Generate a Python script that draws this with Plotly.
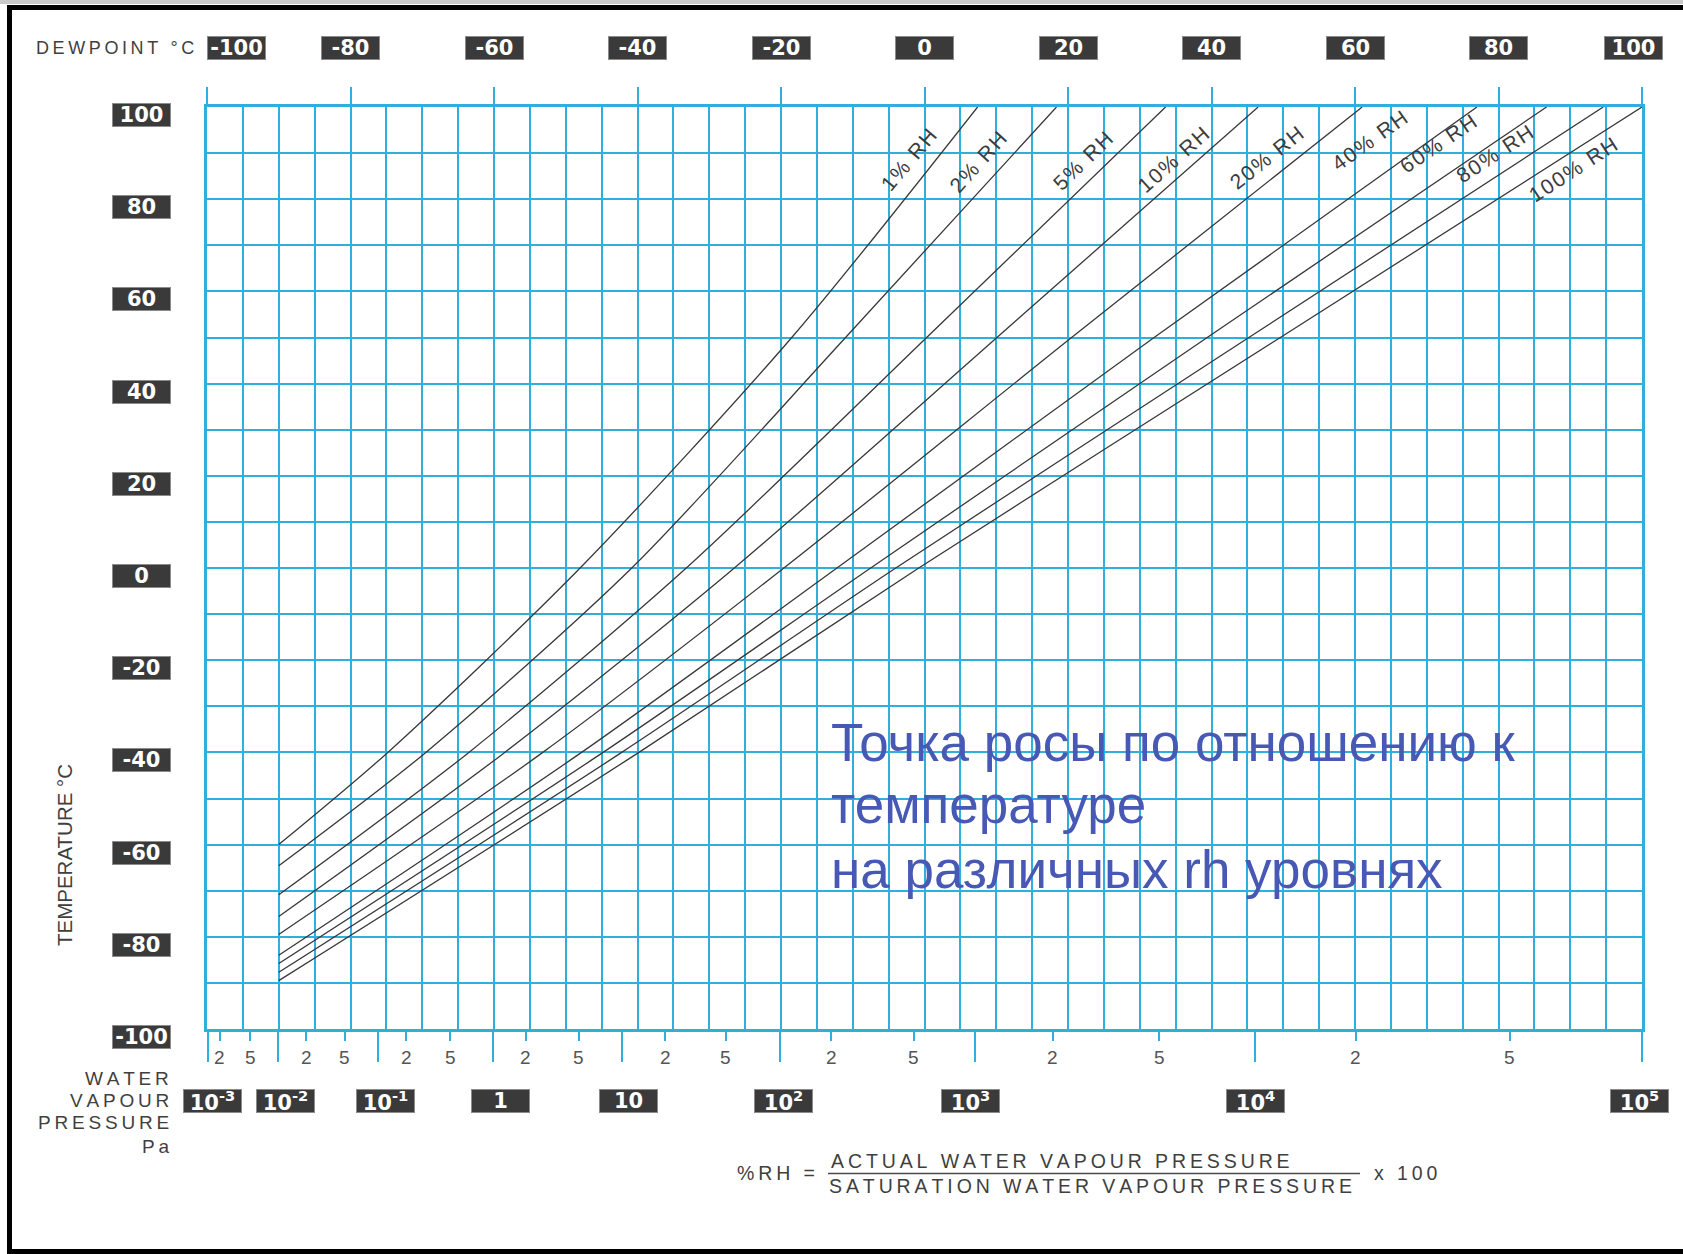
import plotly.graph_objects as go

# ---------------- data ----------------
rh_labels = ["1% RH", "2% RH", "5% RH", "10% RH", "20% RH", "40% RH", "60% RH", "80% RH", "100% RH"]
start_dewpoint = -90.0
start_temps = [-60.0, -64.6, -70.9, -75.6, -79.5, -84.0, -85.8, -87.7, -89.5]
read_temps = [-40, 0, 50, 100]
dew_rh1 = [-74.8, -48.0, -18.5, 7.4]
dew_rh2 = [-69.5, -40.8, -11.0, 18.4]
dew_rh5 = [-63.5, -33.2, 0.3, 33.6]
dew_rh10 = [-58.5, -26.5, 10.1, 46.5]
dew_rh20 = [-53.2, -19.6, 20.5, 61.0]
dew_rh40 = [-47.8, -12.2, 32.0, 77.0]
dew_rh60 = [-44.8, -7.5, 39.4, 86.7]
dew_rh80 = [-42.2, -4.0, 45.2, 94.6]
dew_rh100 = [-39.8, -0.8, 49.6, 100.0]
curve_dews = [dew_rh1, dew_rh2, dew_rh5, dew_rh10, dew_rh20, dew_rh40, dew_rh60, dew_rh80, dew_rh100]

dewpoint_ticks = [-100, -80, -60, -40, -20, 0, 20, 40, 60, 80, 100]
temperature_ticks = [100, 80, 60, 40, 20, 0, -20, -40, -60, -80, -100]
pressure_labels = ["10<sup>-3</sup>", "10<sup>-2</sup>", "10<sup>-1</sup>", "1", "10",
                   "10<sup>2</sup>", "10<sup>3</sup>", "10<sup>4</sup>", "10<sup>5</sup>"]
pressure_decade_dew = [-99.8, -90.1, -76.1, -60.2, -42.1, -20.1, 7.1, 46.1, 100.0]
pressure_label_dew = [-99.2, -89.1, -75.1, -59.1, -41.2, -19.7, 6.4, 46.2, 99.6]
pressure_minor_labels = ["2", "5"] * 8
pressure_minor_dew = [-98.2, -94.0, -86.2, -80.8, -72.2, -66.1, -55.6, -48.2,
                      -36.1, -27.7, -13.0, -1.5, 17.9, 32.7, 60.1, 81.6]

# label placement for the RH curve names (dewpoint, temperature, angle)
label_dew = [-2.2, 7.5, 22.1, 34.7, 47.7, 62.0, 71.6, 79.5, 90.4]
label_temp = [88.6, 88.2, 88.4, 88.6, 89.1, 92.8, 92.0, 90.0, 86.4]
label_angle = [50, 48, 44, 41.5, 38.5, 35.5, 34, 33.3, 32.8]

overlay_lines = ["Точка росы по отношению к", "температуре", "на различных rh уровнях"]

# ---------------- layout geometry ----------------
W, H = 1683, 1254
ML, MR, MT, MB = 207, 41, 107, 225
PW, PH = W - ML - MR, H - MT - MB


def fx(p):
    return (p - ML) / PW


def fy(p):
    return (H - MB - p) / PH


GRID = "#31afdc"
TXT = "#3f3f3f"
FONT = "Liberation Sans, Arial, sans-serif"
THIN = "\u2009"
HAIR = "\u200a"
NB = "\u00a0"


def sp(s, gap=THIN):
    return (gap + NB + gap).join(gap.join(w) for w in s.split(" "))


fig = go.Figure()

for dews, t0 in zip(curve_dews, start_temps):
    fig.add_trace(go.Scatter(
        x=[start_dewpoint] + dews, y=[t0] + read_temps, mode="lines",
        line=dict(color="#383838", width=1.3, shape="spline", smoothing=0.8),
        showlegend=False, hoverinfo="skip"))

# dummy traces for overlay tick axes
fig.add_trace(go.Scatter(x=[None], y=[None], xaxis="x2", showlegend=False, hoverinfo="skip"))
fig.add_trace(go.Scatter(x=[None], y=[None], xaxis="x3", showlegend=False, hoverinfo="skip"))

ann = []

# DEWPOINT title
ann.append(dict(text=sp("DEWPOINT °C"), x=fx(196), y=fy(48), xref="paper", yref="paper",
                xanchor="right", yanchor="middle", showarrow=False,
                font=dict(family=FONT, size=18, color=TXT)))


def box(text, **kw):
    d = dict(text="<b>" + text + "</b>", showarrow=False, bgcolor="#3a3a3a", bordercolor="#8c8c8c",
             borderwidth=1, borderpad=0, width=57, height=22, align="center", valign="middle",
             font=dict(family="DejaVu Sans, sans-serif", size=21, color="white"),
             xanchor="center", yanchor="middle")
    d.update(kw)
    return d


for v in dewpoint_ticks:
    shift = 29 if v == -100 else (-9 if v == 100 else 0)
    ann.append(box(str(v), x=v, xref="x", y=fy(48), yref="paper", xshift=shift))

for v in temperature_ticks:
    ann.append(box(str(v), x=fx(141), xref="paper", y=v, yref="y", yshift=-8))

for lab, v in zip(pressure_labels, pressure_label_dew):
    ann.append(box(lab, x=v, xref="x", y=fy(1101), yref="paper"))

for lab, v in zip(pressure_minor_labels, pressure_minor_dew):
    ann.append(dict(text=lab, x=v, xref="x", y=fy(1057), yref="paper", showarrow=False,
                    xanchor="center", yanchor="middle", font=dict(family=FONT, size=19, color="#555555")))

for word, yy in zip(["WATER", "VAPOUR", "PRESSURE", "Pa"], [1078, 1100.5, 1122.5, 1146]):
    ann.append(dict(text=sp(word), x=fx(171), y=fy(yy), xref="paper", yref="paper", showarrow=False,
                    xanchor="right", yanchor="middle", font=dict(family=FONT, size=19, color=TXT)))

ann.append(dict(text="TEMPERATURE" + NB + "°C", x=fx(64), y=fy(855), xref="paper", yref="paper",
                showarrow=False, textangle=-90, xanchor="center", yanchor="middle",
                font=dict(family=FONT, size=20.5, color=TXT)))

# formula
ann.append(dict(text=sp("%RH ="), x=fx(735), y=fy(1173), xref="paper", yref="paper", showarrow=False,
                xanchor="left", yanchor="middle", font=dict(family=FONT, size=19.5, color=TXT)))
ann.append(dict(text=sp("ACTUAL WATER VAPOUR PRESSURE"),
                x=fx(829), y=fy(1161), xref="paper", yref="paper", showarrow=False,
                xanchor="left", yanchor="middle", font=dict(family=FONT, size=19.5, color=TXT)))
ann.append(dict(text=sp("SATURATION WATER VAPOUR PRESSURE"),
                x=fx(827), y=fy(1186), xref="paper", yref="paper", showarrow=False,
                xanchor="left", yanchor="middle", font=dict(family=FONT, size=19.5, color=TXT)))
ann.append(dict(text=sp("x 100"), x=fx(1372), y=fy(1173), xref="paper", yref="paper", showarrow=False,
                xanchor="left", yanchor="middle", font=dict(family=FONT, size=19.5, color=TXT)))

# RH labels
for lab, xd, yd, ang in zip(rh_labels, label_dew, label_temp, label_angle):
    ann.append(dict(text=sp(lab, HAIR), x=xd, y=yd, xref="x", yref="y",
                    showarrow=False, textangle=-ang, xanchor="center", yanchor="middle",
                    font=dict(family=FONT, size=21, color="#3c3c3c")))

# overlay Russian caption
for line, yy in zip(overlay_lines, [742, 804, 869]):
    ann.append(dict(text=line.replace(" ", NB), x=fx(829), y=fy(yy), xref="paper", yref="paper",
                    showarrow=False, xanchor="left", yanchor="middle",
                    font=dict(family=FONT, size=53, color="#4759b4")))

shapes = [
    # light strip on top edge
    dict(type="rect", xref="paper", yref="paper", x0=fx(0), x1=fx(W + 5), y0=fy(4), y1=fy(-2),
         line=dict(width=0), fillcolor="#c9c9c9", layer="below"),
    # black frame
    dict(type="rect", xref="paper", yref="paper", x0=fx(9.5), x1=fx(W + 20), y0=fy(1251.5), y1=fy(7.5),
         line=dict(color="black", width=5), fillcolor="rgba(0,0,0,0)"),
    # fraction bar
    dict(type="line", xref="paper", yref="paper", x0=fx(828), x1=fx(1360), y0=fy(1173.5), y1=fy(1173.5),
         line=dict(color="#4a4a4a", width=1.5)),
]

fig.update_layout(
    width=W, height=H,
    margin=dict(l=ML, r=MR, t=MT, b=MB, pad=0),
    paper_bgcolor="white", plot_bgcolor="white",
    showlegend=False,
    xaxis=dict(range=[-100, 100], dtick=5, tick0=-100, showgrid=True, gridcolor=GRID, gridwidth=1.5,
               zeroline=False, showticklabels=False, ticks="", showline=True, mirror=True,
               linecolor=GRID, linewidth=3, fixedrange=True),
    xaxis2=dict(range=[-100, 100], overlaying="x", side="top", anchor="y", tickmode="array",
                tickvals=dewpoint_ticks, ticks="outside", ticklen=19, tickwidth=2.2, tickcolor=GRID,
                showticklabels=False, showgrid=False, zeroline=False, showline=False),
    xaxis3=dict(range=[-100, 100], overlaying="x", side="bottom", anchor="y", tickmode="array",
                tickvals=pressure_decade_dew, ticks="outside", ticklen=32, tickwidth=2.2, tickcolor=GRID,
                minor=dict(tickmode="array", tickvals=pressure_minor_dew, ticks="outside", ticklen=11,
                           tickwidth=1.6, tickcolor=GRID),
                showticklabels=False, showgrid=False, zeroline=False, showline=False),
    yaxis=dict(range=[-100, 100], dtick=10, tick0=-100, showgrid=True, gridcolor=GRID, gridwidth=1.5,
               zeroline=False, showticklabels=False, ticks="", showline=True, mirror=True,
               linecolor=GRID, linewidth=2.5, fixedrange=True),
    annotations=ann,
    shapes=shapes,
)

fig.write_html("out.html")
